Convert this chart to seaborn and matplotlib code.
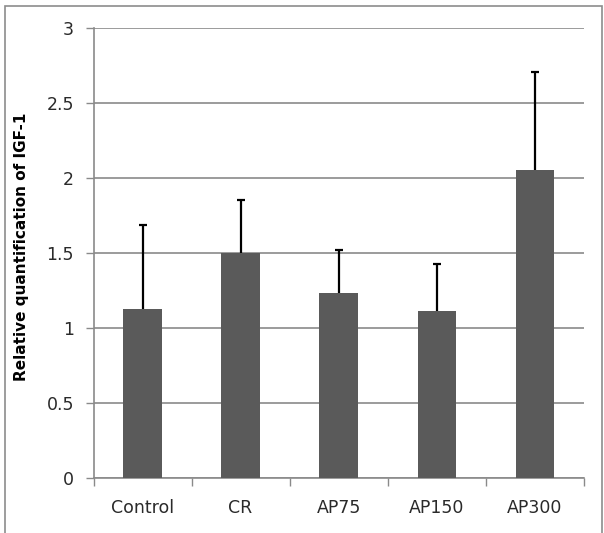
import numpy as np
import pandas as pd
import matplotlib
matplotlib.use("Agg")
import matplotlib.pyplot as plt
import seaborn as sns
from matplotlib.patches import Rectangle

# Relative IGF-1 expression per group (mean and upper SD)
groups = ["Control", "CR", "AP75", "AP150", "AP300"]
means = [1.13, 1.50, 1.233, 1.117, 2.055]
sd_upper = [0.56, 0.355, 0.29, 0.312, 0.655]
y_ticks = [0, 0.5, 1, 1.5, 2, 2.5, 3]
y_tick_labels = ["0", "0.5", "1", "1.5", "2", "2.5", "3"]

sns.set_style("white")
plt.rcParams["font.family"] = ["DejaVu Sans"]

bar_color = "#5a5a5a"
grid_color = "#8a8a8a"
text_color = "#2a2a2a"

fig = plt.figure(figsize=(6.04, 5.33), dpi=100)
ax = fig.add_axes([93.5 / 604, 54.7 / 533, (583.7 - 93.5) / 604, 450 / 533])

df = pd.DataFrame({"group": groups, "mean": means})
sns.barplot(data=df, x="group", y="mean", color=bar_color, saturation=1,
            width=0.39, errorbar=None, linewidth=0, ax=ax, zorder=3)

# one-sided (upper) error bars
x_pos = np.arange(len(groups))
_, caps, _ = ax.errorbar(x_pos, means, yerr=[np.zeros(len(groups)), sd_upper],
                         fmt="none", ecolor="black", elinewidth=1.6,
                         capsize=2.6, capthick=1.6, zorder=4)
caps[0].set_visible(False)

ax.set_ylim(0, 3)
ax.set_xlim(-0.5, len(groups) - 0.5)
ax.set_yticks(y_ticks)
ax.set_yticklabels(y_tick_labels)
ax.yaxis.grid(True, color=grid_color, linewidth=1.2, zorder=0)
ax.set_axisbelow(True)

# category boundary ticks on the x axis
ax.set_xticks(np.arange(-0.5, len(groups)), minor=True)
ax.tick_params(axis="x", which="major", length=0, pad=15, labelsize=12.5,
               labelcolor=text_color)
ax.tick_params(axis="x", which="minor", length=6, width=1, color=grid_color,
               direction="out", bottom=True)
ax.tick_params(axis="y", which="major", length=6, width=1, color=grid_color,
               direction="out", left=True, pad=8, labelsize=12.5,
               labelcolor=text_color)

for side in ["top", "right"]:
    ax.spines[side].set_visible(False)
for side in ["left", "bottom"]:
    ax.spines[side].set_color(grid_color)
    ax.spines[side].set_linewidth(1.2)

ax.set_xlabel("")
ax.set_ylabel("Relative quantification of IGF-1", fontsize=11,
              fontweight="bold", color="black")
ax.yaxis.set_label_coords(-(93.5 - 29) / (583.7 - 93.5), (478.3 - 247) / 450)

# chart frame
fig.patches.append(Rectangle((5 / 604, -0.1), (602 - 5) / 604, 1.1 - 6 / 533,
                             transform=fig.transFigure, fill=False,
                             edgecolor="#8c8c8c", linewidth=1.2))

fig.savefig("out.png", dpi=100)
